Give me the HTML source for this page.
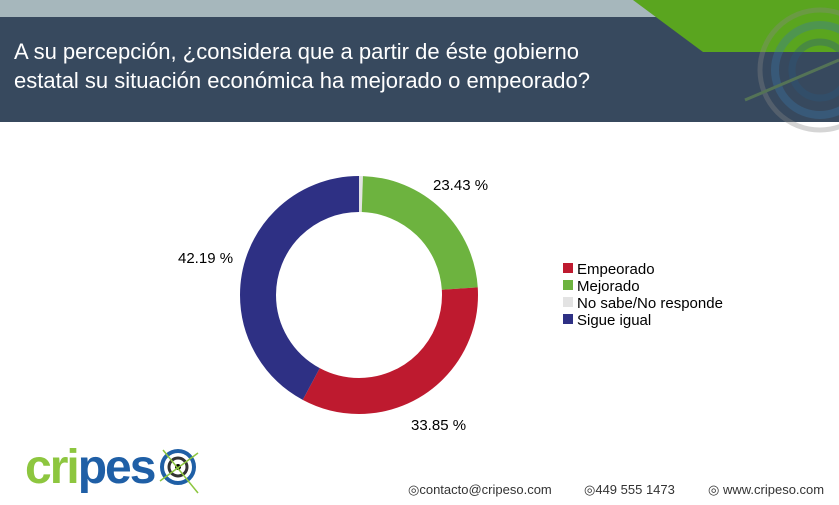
<!DOCTYPE html>
<html><head><meta charset="utf-8"><style>
body{margin:0;width:839px;height:505px;overflow:hidden;background:#fff;font-family:"Liberation Sans",sans-serif;position:relative}
.t{position:absolute;white-space:nowrap}
</style></head><body>
<svg width="839" height="505" style="position:absolute;left:0;top:0">
<rect x="0" y="0" width="839" height="18" fill="#a6b7bc"/>
<rect x="0" y="17" width="839" height="105" fill="#37495e"/>
<polygon points="633,0 839,0 839,52 703,52" fill="#5aa51f"/>
<g opacity="0.35" fill="none">
<circle cx="820" cy="70" r="60" stroke="#888" stroke-width="5"/>
<circle cx="820" cy="70" r="45" stroke="#3a78a8" stroke-width="8"/>
<circle cx="820" cy="70" r="28" stroke="#2a5a80" stroke-width="7"/>
<line x1="745" y1="100" x2="839" y2="60" stroke="#8bc34a" stroke-width="3"/>
</g>
<g transform="rotate(-90 359 295)" fill="none" stroke-width="36">
<circle cx="359" cy="295" r="101" stroke="#e3e3e3" stroke-dasharray="3.4 700"/>
<circle cx="359" cy="295" r="101" stroke="#6db33f" stroke-dasharray="148.7 700" stroke-dashoffset="-3.4"/>
<circle cx="359" cy="295" r="101" stroke="#be1a2f" stroke-dasharray="214.8 700" stroke-dashoffset="-152.1"/>
<circle cx="359" cy="295" r="101" stroke="#2e3084" stroke-dasharray="267.7 700" stroke-dashoffset="-366.9"/>
</g>
<rect x="563" y="263" width="10" height="10" fill="#be1a2f"/>
<rect x="563" y="280" width="10" height="10" fill="#6db33f"/>
<rect x="563" y="297" width="10" height="10" fill="#e3e3e3"/>
<rect x="563" y="314" width="10" height="10" fill="#2e3084"/>
</svg>
<div class="t" style="left:14px;top:37px;font-size:22px;line-height:29px;color:#fff">A su percepción, ¿considera que a partir de éste gobierno<br>estatal su situación económica ha mejorado o empeorado?</div>
<div class="t" style="left:433px;top:177px;font-size:15px">23.43 %</div>
<div class="t" style="left:178px;top:250px;font-size:15px">42.19 %</div>
<div class="t" style="left:411px;top:417px;font-size:15px">33.85 %</div>
<div class="t" style="left:577px;top:261px;font-size:15px;line-height:17px">Empeorado<br>Mejorado<br>No sabe/No responde<br>Sigue igual</div>
<div class="t" style="left:25px;top:442px;font-size:48px;font-weight:bold;letter-spacing:-2px;line-height:52px"><span style="color:#8dc63f">cri</span><span style="color:#1f5fa6">pes</span></div>
<svg width="50" height="50" style="position:absolute;left:158px;top:445px"><circle cx="20" cy="22" r="16" fill="none" stroke="#1f5fa6" stroke-width="4"/><circle cx="20" cy="22" r="9" fill="none" stroke="#333" stroke-width="3"/><circle cx="20" cy="22" r="3" fill="#000"/><line x1="2" y1="36" x2="40" y2="8" stroke="#8dc63f" stroke-width="1.5"/><line x1="5" y1="5" x2="40" y2="48" stroke="#8dc63f" stroke-width="1.5"/></svg>
<div class="t" style="left:408px;top:482px;font-size:13px;color:#333">◎contacto@cripeso.com</div>
<div class="t" style="left:584px;top:482px;font-size:13px;color:#333">◎449 555 1473</div>
<div class="t" style="left:708px;top:482px;font-size:13px;color:#333">◎ www.cripeso.com</div>
</body></html>
